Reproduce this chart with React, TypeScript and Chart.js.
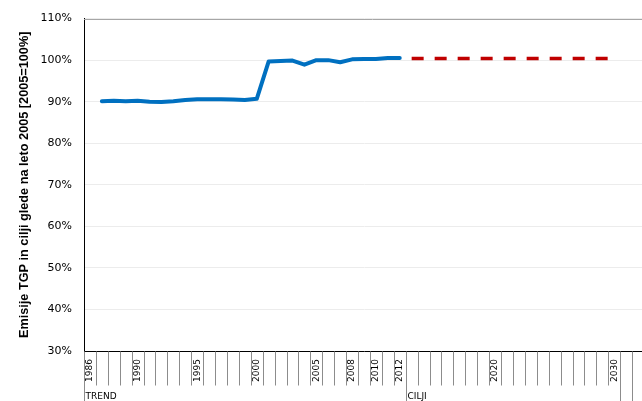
import React, { useEffect, useRef } from "react";
import { Chart, registerables } from "chart.js";

Chart.register(...registerables);

const years = [
  "1986", "1987", "1988", "1989", "1990", "1991", "1992", "1993", "1994", "1995",
  "1996", "1997", "1998", "1999", "2000", "2001", "2002", "2003", "2004", "2005",
  "2006", "2007", "2008", "2009", "2010", "2011", "2012", "2013", "2014", "2015",
  "2016", "2017", "2018", "2019", "2020", "2021", "2022", "2023", "2024", "2025",
  "2026", "2027", "2028", "2029", "2030", "2031", "2032",
];

const shownLabels = ["1986", "1990", "1995", "2000", "2005", "2008", "2010", "2012", "2020", "2030"];

// TREND: 1986..2012
const trendValues: (number | null)[] = [
  null, 90.1, 90.2, 90.1, 90.2, 90.0, 89.9, 90.1, 90.4, 90.6,
  90.6, 90.6, 90.5, 90.4, 90.7, 99.7, 99.8, 99.9, 98.9, 100.0,
  100.0, 99.5, 100.2, 100.3, 100.3, 100.5, 100.5,
];

// CILJI: 2013..2030
const targetValues: number[] = [
  100.4, 100.4, 100.4, 100.4, 100.4, 100.4, 100.4, 100.4, 100.4,
  100.4, 100.4, 100.4, 100.4, 100.4, 100.4, 100.4, 100.4, 100.4,
];

const groupLabels = [
  { label: "TREND", start: "1986" },
  { label: "CILJI", start: "2013" },
];
const groupBoundaries = ["1986", "2013", "2031", "2032"];

const yTitle = "Emisije TGP in cilji glede na leto 2005 [2005=100%]";

export default function App() {
  const ref = useRef<HTMLCanvasElement | null>(null);

  useEffect(() => {
    if (!ref.current) return;
    const trendData = years.map((y, i) => (i < trendValues.length ? trendValues[i] : null));
    const targetStart = years.indexOf("2013");
    const targetData = years.map((y, i) =>
      i >= targetStart && i - targetStart < targetValues.length ? targetValues[i - targetStart] : null
    );

    const decor = {
      id: "decor",
      afterDraw(chart: any) {
        const { ctx, chartArea, scales } = chart;
        const x = scales.x;
        const step = x.getPixelForValue(1) - x.getPixelForValue(0);
        const edge = (i: number) => x.getPixelForValue(0) - step / 2 + i * step;
        const axisY = Math.round(chartArea.bottom) + 0.5;
        ctx.save();
        ctx.lineWidth = 1;
        // top border
        ctx.strokeStyle = "#a6a6a6";
        ctx.beginPath();
        ctx.moveTo(chartArea.left, Math.round(chartArea.top) + 0.5);
        ctx.lineTo(chartArea.right + 20, Math.round(chartArea.top) + 0.5);
        ctx.stroke();
        // category ticks
        ctx.strokeStyle = "#8c8c8c";
        const tall = groupBoundaries.map((g) => years.indexOf(g));
        for (let i = 0; i <= years.length; i++) {
          const px = Math.round(edge(i)) + 0.5;
          const len = tall.includes(i) ? 52 : 34;
          ctx.beginPath();
          ctx.moveTo(px, axisY);
          ctx.lineTo(px, axisY + len);
          ctx.stroke();
        }
        // group labels
        ctx.fillStyle = "#000";
        ctx.font = "9px 'DejaVu Sans'";
        ctx.textAlign = "left";
        ctx.textBaseline = "alphabetic";
        groupLabels.forEach((g) => {
          const i = years.indexOf(g.start);
          ctx.fillText(g.label, Math.round(edge(i)) + 1.5, 399);
        });
        ctx.restore();
      },
    };

    const chart = new Chart(ref.current, {
      type: "line",
      data: {
        labels: years,
        datasets: [
          {
            label: "TREND",
            data: trendData,
            borderColor: "#0070C0",
            backgroundColor: "#0070C0",
            borderWidth: 4,
            pointRadius: 0,
            tension: 0,
            borderCapStyle: "round",
            borderJoinStyle: "round",
            spanGaps: false,
          },
          {
            label: "CILJI",
            data: targetData,
            borderColor: "#C00000",
            backgroundColor: "#C00000",
            borderWidth: 3.5,
            borderDash: [12, 11],
            pointRadius: 0,
            tension: 0,
            spanGaps: false,
          },
        ],
      },
      plugins: [decor],
      options: {
        animation: false,
        responsive: false,
        maintainAspectRatio: false,
        layout: { padding: { top: 16, right: 16, left: 0, bottom: 0 } },
        plugins: {
          legend: { display: false },
          tooltip: { enabled: false },
        },
        scales: {
          x: {
            type: "category",
            offset: true,
            afterFit: (scale: any) => {
              scale.height = 50;
            },
            grid: { display: true, offset: true, drawOnChartArea: false, drawTicks: false, color: "rgba(0,0,0,0)" },
            border: { display: true, color: "#000", width: 1 },
            ticks: {
              autoSkip: false,
              maxRotation: 90,
              minRotation: 90,
              padding: 8,
              color: "#000",
              font: { family: "'DejaVu Sans'", size: 9 },
              callback: function (this: any, value: any, index: number) {
                const lbl = years[index];
                return shownLabels.includes(lbl) ? lbl : "";
              },
            },
          },
          y: {
            min: 30,
            max: 110,
            afterFit: (scale: any) => {
              scale.width = 84;
            },
            grid: { color: "#ececec", drawTicks: false },
            border: { display: true, color: "#000", width: 1 },
            ticks: {
              stepSize: 10,
              padding: 12,
              color: "#000",
              font: { family: "'DejaVu Sans'", size: 11 },
              callback: (v: any) => `${v}%`,
            },
            title: {
              display: true,
              text: yTitle,
              color: "#000",
              font: { family: "'Liberation Sans'", size: 12.7, weight: "bold" },
              padding: { top: 17, bottom: 0 },
            },
          },
        },
      },
    });
    return () => chart.destroy();
  }, []);

  return (
    <div style={{ position: "fixed", left: 0, top: 0, width: 642, height: 401, overflow: "hidden", background: "#fff" }}>
      <canvas ref={ref} width={660} height={401} style={{ display: "block" }} />
    </div>
  );
}
